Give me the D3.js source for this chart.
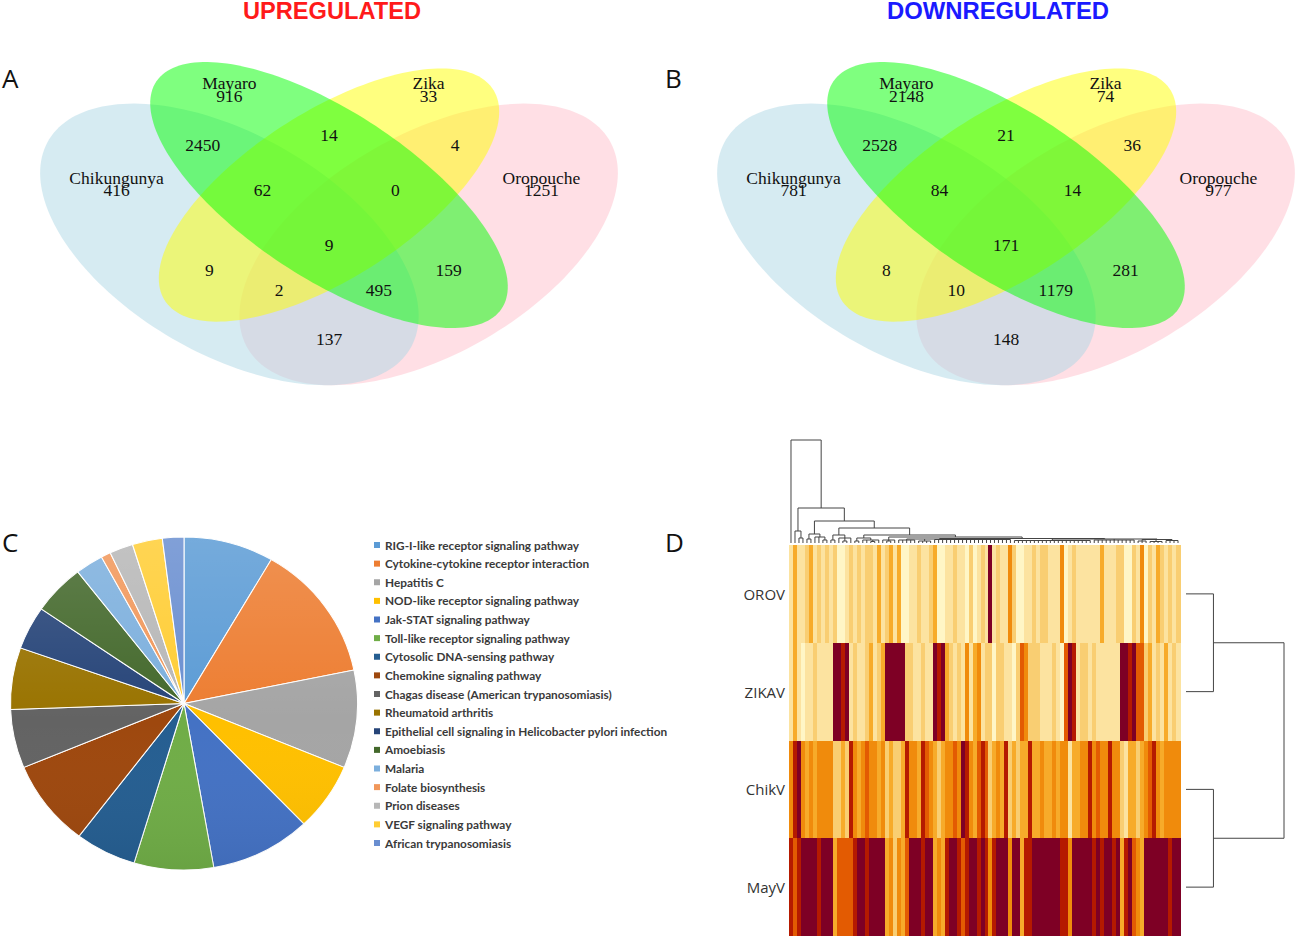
<!DOCTYPE html>
<html>
<head>
<meta charset="utf-8">
<script src="https://cdn.jsdelivr.net/npm/d3@7"></script>
<style>
  body { margin: 0; background: #fff; }
  svg { display: block; }
</style>
</head>
<body>
<svg id="fig" width="1295" height="938"></svg>
<script>
// ---------------- data ----------------
// Venn panels (A up, B down). Region keys: C=Chikungunya M=Mayaro Z=Zika O=Oropouche
const vennSets = ["Chikungunya", "Mayaro", "Zika", "Oropouche"];
const vennRegions = ["C", "M", "Z", "O", "CM", "MZ", "ZO", "CMZ", "MZO", "CMZO", "CZ", "MO", "CZO", "CMO", "CO"];
const upCounts   = [416, 916, 33, 1251, 2450, 14, 4, 62, 0, 9, 9, 159, 2, 495, 137];
const downCounts = [781, 2148, 74, 977, 2528, 21, 36, 84, 14, 171, 8, 281, 10, 1179, 148];

// Pie (C): KEGG pathways, share of genes (%)
const pathways = [
  "RIG-I-like receptor signaling pathway",
  "Cytokine-cytokine receptor interaction",
  "Hepatitis C",
  "NOD-like receptor signaling pathway",
  "Jak-STAT signaling pathway",
  "Toll-like receptor signaling pathway",
  "Cytosolic DNA-sensing pathway",
  "Chemokine signaling pathway",
  "Chagas disease (American trypanosomiasis)",
  "Rheumatoid arthritis",
  "Epithelial cell signaling in Helicobacter pylori infection",
  "Amoebiasis",
  "Malaria",
  "Folate biosynthesis",
  "Prion diseases",
  "VEGF signaling pathway",
  "African trypanosomiasis"
];
const pathwayShare = [8.4, 13.4, 9.5, 6.6, 9.4, 7.4, 5.7, 8.4, 5.7, 6.0, 4.2, 4.9, 2.6, 0.9, 2.2, 2.8, 2.0];

// Heatmap (D): expression level class per gene column (0 = lowest ... 7 = highest)
const heatRows = ["OROV", "ZIKAV", "ChikV", "MayV"];
const orovLevels = [1,3,1,1,2,3,1,2,1,2,1,2,0,0,1,2,1,2,1,2,2,1,3,1,2,
  3,1,3,0,0,1,1,2,1,1,2,3,0,0,1,1,2,1,1,0,2,0,1,2,
  1,7,1,2,1,1,4,2,0,0,1,1,2,1,2,2,1,1,1,4,0,1,2,1,1,
  1,1,1,1,3,1,1,1,2,2,0,0,2,1,4,0,2,1,3,2,1,2,1,2];
const zikavLevels = [1,3,1,0,1,1,2,1,1,1,1,7,7,6,7,1,2,1,1,2,3,1,2,3,7,
  7,7,7,7,2,2,1,1,2,1,1,7,6,7,3,2,1,2,1,4,1,3,4,1,
  2,2,0,2,2,1,1,0,2,5,4,2,2,2,1,1,1,2,1,0,5,7,6,1,2,
  2,1,2,1,1,1,1,1,1,7,7,6,7,5,5,2,3,1,2,1,3,1,2,1];
const chikvLevels = [4,6,7,4,3,4,3,4,4,4,4,2,2,3,2,6,4,3,4,5,4,4,3,4,2,
  3,2,2,3,6,4,4,3,6,5,4,3,2,3,4,4,5,4,7,6,4,3,5,6,
  5,2,3,4,3,6,2,3,2,3,3,6,3,3,4,3,3,4,3,4,4,1,3,3,4,
  4,6,4,5,4,4,6,4,4,2,1,3,3,2,3,4,5,6,4,3,4,4,4,4];
const mayvLevels = [6,5,6,7,7,7,7,6,7,7,7,3,5,5,5,5,6,7,7,6,7,7,7,7,3,
  4,2,4,3,5,7,7,7,6,7,7,3,4,3,6,7,7,6,5,6,7,7,6,7,
  6,4,6,7,7,7,4,7,7,3,6,6,7,7,7,7,7,7,7,6,6,4,7,7,7,
  7,7,6,7,6,7,7,6,7,3,6,7,5,4,3,7,7,7,7,7,7,6,7,7];

// column dendrogram: [mergeHeight, child, child, ...], numbers are column indices
const colTree =
  [103, 0,
    [35,
      [12, 1, [5, 2, 3]],
      [22,
        [9, [4, 4, 5], [6, 6, 7, [3, 8, 9]]],
        [15,
          [8, [3, 10, 11], [5, 12, [2, 13, 14], 15]],
          [8,
            [5, [2, 16, 17], [3, 18, 19, [1.5, 20, 21], 22]],
            [6,
              [3, 23, [2, 24, 25], 26],
              [4.5,
                [4, [3, 27, 28, 29, 30, 31], [2, 32, 33, 34, 35],
                  [3.5, 36, 37, 38, 39, 40, 41, 42, 43, 44, 45, 46, 47, 48, 49, 50, 51, 52, 53, 54, 55]],
                [4, [2.5, 56, 57, 58, 59, 60, 61, 62, 63, 64, 65, 66, 67, 68, 69, 70, 71, 72, 73, 74, 75],
                  [3, 76, 77, 78, 79, 80, 81, 82, 83, 84, 85, 86],
                  [3.5, [2, 87, 88, 89], [1.5, 90, 91, 92, 93], [2.5, 94, 95, 96, 97]]]]]]]]]];
// row dendrogram, numbers are row indices
const rowTree = [1, [0.28, 0, 1], [0.28, 2, 3]];

// ---------------- layout / style ----------------
const svg = d3.select("#fig");
svg.append("rect").attr("width", 1295).attr("height", 938).attr("fill", "#fff");

// ellipse geometry in npc units (VennDiagram quad layout)
const ellipses = [
  { set: "Oropouche",   x: 0.65, y: 0.47, a: 0.35, b: 0.20, rot: 45,  fill: "pink" },
  { set: "Chikungunya", x: 0.35, y: 0.47, a: 0.35, b: 0.20, rot: 135, fill: "lightblue" },
  { set: "Zika",        x: 0.50, y: 0.57, a: 0.33, b: 0.15, rot: 45,  fill: "#ffff00" },
  { set: "Mayaro",      x: 0.50, y: 0.57, a: 0.35, b: 0.15, rot: 135, fill: "#00ff00" }
];
const namePos = { Chikungunya: [0.18, 0.605], Mayaro: [0.35, 0.797], Zika: [0.65, 0.797], Oropouche: [0.82, 0.605] };
const regionPos = {
  C: [0.18, 0.580], M: [0.35, 0.770], Z: [0.65, 0.770], O: [0.82, 0.580],
  CM: [0.31, 0.671], MZ: [0.50, 0.691], ZO: [0.69, 0.671],
  CMZ: [0.40, 0.580], MZO: [0.60, 0.580], CMZO: [0.50, 0.469],
  CZ: [0.32, 0.418], MO: [0.68, 0.418], CZO: [0.425, 0.378], CMO: [0.575, 0.378], CO: [0.50, 0.279]
};

function drawVenn(x0, counts) {
  const x = d3.scaleLinear().domain([0, 1]).range([x0, x0 + 664]);
  const y = d3.scaleLinear().domain([0, 1]).range([476.6, -17.4]);
  const g = svg.append("g");
  const line = d3.line().x(p => x(p[0])).y(p => y(p[1])).curve(d3.curveLinearClosed);

  ellipses.forEach(e => {
    const r = e.rot * Math.PI / 180;
    const pts = d3.range(0, 360, 2).map(deg => {
      const t = deg * Math.PI / 180;
      return [e.x + e.a * Math.cos(t) * Math.cos(r) - e.b * Math.sin(t) * Math.sin(r),
              e.y + e.a * Math.cos(t) * Math.sin(r) + e.b * Math.sin(t) * Math.cos(r)];
    });
    g.append("path").attr("d", line(pts)).attr("fill", e.fill).attr("fill-opacity", 0.5);
  });

  const font = g.append("g")
    .attr("font-family", "'Liberation Serif', 'DejaVu Serif', serif")
    .attr("font-size", 17.5)
    .attr("fill", "#111")
    .attr("text-anchor", "middle")
    .attr("dominant-baseline", "central");

  vennSets.forEach(s => {
    font.append("text").attr("x", x(namePos[s][0])).attr("y", y(namePos[s][1])).text(s);
  });
  vennRegions.forEach((k, i) => {
    font.append("text").attr("x", x(regionPos[k][0])).attr("y", y(regionPos[k][1])).text(counts[i]);
  });
}

drawVenn(-3, upCounts);
drawVenn(674, downCounts);

// titles
svg.append("text").attr("x", 332).attr("y", 19)
  .attr("text-anchor", "middle").attr("font-family", "'Liberation Sans Narrow', 'Liberation Sans', Arial, sans-serif")
  .attr("font-weight", "bold").attr("font-size", 24).attr("fill", "#ff1a1a")
  .attr("textLength", 178).attr("lengthAdjust", "spacingAndGlyphs")
  .text("UPREGULATED");
svg.append("text").attr("x", 998).attr("y", 19)
  .attr("text-anchor", "middle").attr("font-family", "'Liberation Sans Narrow', 'Liberation Sans', Arial, sans-serif")
  .attr("font-weight", "bold").attr("font-size", 24).attr("fill", "#1a1aff")
  .attr("textLength", 222).attr("lengthAdjust", "spacingAndGlyphs")
  .text("DOWNREGULATED");

// panel letters
[["A", 2, 88], ["B", 665, 88], ["C", 2, 552], ["D", 665, 552]].forEach(([t, px, py]) => {
  svg.append("text").attr("x", px).attr("y", py)
    .attr("font-family", "'Open Sans', 'Noto Sans', sans-serif").attr("font-size", 26)
    .attr("fill", "#111").text(t);
});

// ---------------- pie (C) ----------------
const pieColors = ["#5B9BD5", "#ED7D31", "#A5A5A5", "#FFC000", "#4472C4", "#70AD47", "#255E91",
  "#9E480E", "#636363", "#997300", "#264478", "#43682B", "#7CAFDD", "#F1975A", "#B7B7B7", "#FFCD33", "#698ED0"];
const color = d3.scaleOrdinal().domain(pathways).range(pieColors);

const defs = svg.append("defs");
const grad = defs.append("linearGradient").attr("id", "pieShade")
  .attr("x1", 0).attr("y1", 0).attr("x2", 0).attr("y2", 1);
grad.append("stop").attr("offset", "0%").attr("stop-color", "#fff").attr("stop-opacity", 0.16);
grad.append("stop").attr("offset", "55%").attr("stop-color", "#fff").attr("stop-opacity", 0);
grad.append("stop").attr("offset", "100%").attr("stop-color", "#000").attr("stop-opacity", 0.06);

const pieR = 166.5;
const pieG = svg.append("g").attr("transform", "translate(184,703.5) scale(1.042,1)");
const pie = d3.pie().sort(null).value(d => d.v);
const arc = d3.arc().innerRadius(0).outerRadius(pieR);
const arcs = pie(pathways.map((p, i) => ({ p, v: pathwayShare[i] })));

pieG.selectAll("path.slice").data(arcs).join("path")
  .attr("class", "slice")
  .attr("d", arc)
  .attr("fill", d => color(d.data.p))
  .attr("stroke", "#fff").attr("stroke-width", 1);
pieG.append("circle").attr("r", pieR).attr("fill", "url(#pieShade)").attr("pointer-events", "none");

// legend
const leg = svg.append("g")
  .attr("font-family", "Lato, 'Open Sans', sans-serif")
  .attr("font-weight", "bold").attr("font-size", 11.8).attr("fill", "#3a3a3a");
const legY = d3.scalePoint().domain(pathways).range([545, 843]);
pathways.forEach(p => {
  leg.append("rect").attr("x", 374).attr("y", legY(p) - 3).attr("width", 6).attr("height", 6).attr("fill", color(p));
  leg.append("text").attr("x", 385).attr("y", legY(p)).attr("dominant-baseline", "central").text(p);
});

// ---------------- heatmap (D) ----------------
const levelRows = [orovLevels, zikavLevels, chikvLevels, mayvLevels];
const nCols = orovLevels.length;
const heatColor = d3.scaleOrdinal().domain(d3.range(8))
  .range(["#FFF6C6", "#FCE3A0", "#F9CE72", "#F7AB2A", "#F08B0C", "#E35B02", "#B51A00", "#7E0025"]);
const hx = d3.scaleBand().domain(d3.range(nCols)).range([789, 1180]);
const hy = d3.scaleBand().domain(heatRows).range([545, 936]);

const heat = svg.append("g").attr("shape-rendering", "crispEdges");
heatRows.forEach((r, ri) => {
  heat.selectAll(null).data(levelRows[ri]).join("rect")
    .attr("x", (d, i) => hx(i))
    .attr("y", hy(r))
    .attr("width", hx.bandwidth() + 0.6)
    .attr("height", hy.bandwidth())
    .attr("fill", d => heatColor(d));
});

svg.append("g")
  .attr("font-family", "'Open Sans', 'Noto Sans', sans-serif").attr("font-size", 15).attr("fill", "#333")
  .selectAll("text").data(heatRows).join("text")
  .attr("x", 785).attr("y", d => hy(d) + hy.bandwidth() / 2)
  .attr("text-anchor", "end").attr("dominant-baseline", "central")
  .text(d => d);

// dendrograms
function layoutTree(tree, leafPos) {
  const root = d3.hierarchy(tree, d => Array.isArray(d) ? d.slice(1) : null);
  root.eachAfter(n => {
    n.h = Array.isArray(n.data) ? n.data[0] : 0;
    n.pos = n.children
      ? (n.children[0].pos + n.children[n.children.length - 1].pos) / 2
      : leafPos(n.data);
  });
  return root;
}

function drawDendro(root, toXY) {
  const segs = [];
  root.each(n => {
    if (!n.children) return;
    const kids = n.children;
    segs.push([toXY(kids[0].pos, n.h), toXY(kids[kids.length - 1].pos, n.h)]);
    kids.forEach(k => segs.push([toXY(k.pos, k.h), toXY(k.pos, n.h)]));
  });
  svg.append("g").attr("stroke", "#444").attr("stroke-width", 1).attr("fill", "none")
    .selectAll("line").data(segs).join("line")
    .attr("x1", d => d[0][0]).attr("y1", d => d[0][1])
    .attr("x2", d => d[1][0]).attr("y2", d => d[1][1]);
}

const colH = d3.scaleLinear().domain([0, 103]).range([543, 440]);
drawDendro(layoutTree(colTree, i => hx(i) + hx.bandwidth() / 2), (p, h) => [p, colH(h)]);

const rowH = d3.scaleLinear().domain([0, 1]).range([1186, 1284]);
drawDendro(layoutTree(rowTree, i => hy(heatRows[i]) + hy.bandwidth() / 2), (p, h) => [rowH(h), p]);
</script>
</body>
</html>
